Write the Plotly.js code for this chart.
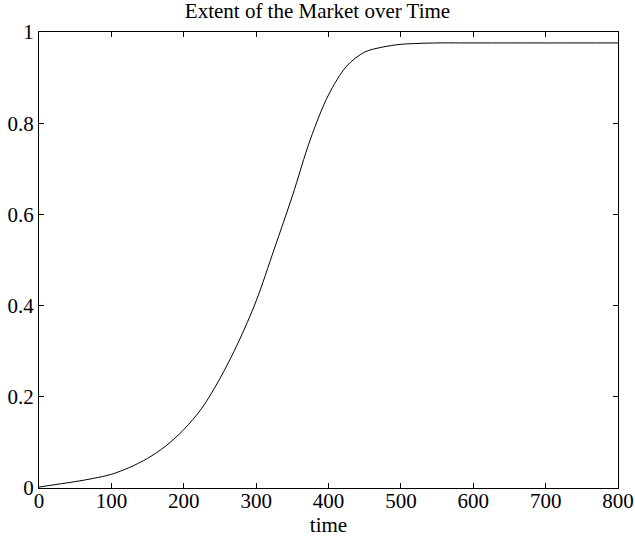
<!DOCTYPE html>
<html>
<head>
<meta charset="utf-8">
<script src="https://cdn.plot.ly/plotly-3.0.1.min.js"></script>
<style>html,body{margin:0;padding:0;background:#fff;}#chart{width:635px;height:543px;}</style>
</head>
<body>
<div id="chart"></div>
<script>
const timeValues = [0, 25, 50, 75, 100, 125, 150, 175, 200, 225, 250, 275, 300, 325, 350, 375, 400, 425, 450, 475, 500, 525, 550, 600, 650, 700, 750, 800];
const marketExtent = [0.002, 0.008, 0.014, 0.021, 0.030, 0.045, 0.065, 0.092, 0.128, 0.175, 0.240, 0.318, 0.410, 0.524, 0.640, 0.765, 0.862, 0.925, 0.956, 0.967, 0.973, 0.975, 0.976, 0.976, 0.976, 0.976, 0.976, 0.976];
const xTicks = [0, 100, 200, 300, 400, 500, 600, 700, 800];
const yTicks = [0, 0.2, 0.4, 0.6, 0.8, 1];

const trace = {
  x: timeValues, y: marketExtent, type: 'scatter', mode: 'lines',
  line: {color: '#000', width: 1, shape: 'spline', smoothing: 0.9},
  hoverinfo: 'none'
};
const fontFam = '"Liberation Serif", "Times New Roman", serif';
const fs = 21;
const layout = {
  width: 635, height: 543,
  margin: {l: 39, r: 17, t: 32, b: 55},
  paper_bgcolor: '#fff', plot_bgcolor: '#fff',
  showlegend: false,
  font: {family: fontFam, size: fs, color: '#000'},
  title: {text: 'Extent of the Market over Time', font: {family: fontFam, size: fs, color: '#000'}, x: 0.5, xanchor: 'center', y: 0.98, yanchor: 'middle'},
  xaxis: {
    range: [0, 800], tickvals: xTicks, ticktext: xTicks.map(String),
    ticks: 'inside', ticklen: 5, tickcolor: '#000', tickwidth: 1,
    showline: true, linecolor: '#000', linewidth: 1, mirror: 'allticks',
    showgrid: false, zeroline: false, ticklabelstandoff: -6,
    tickfont: {family: fontFam, size: fs, color: '#000'},
    title: {text: 'time', font: {family: fontFam, size: fs, color: '#000'}, standoff: 0}
  },
  yaxis: {
    range: [0, 1], tickvals: yTicks, ticktext: yTicks.map(String),
    ticks: 'inside', ticklen: 5, tickcolor: '#000', tickwidth: 1,
    showline: true, linecolor: '#000', linewidth: 1, mirror: 'allticks',
    showgrid: false, zeroline: false,
    tickfont: {family: fontFam, size: fs, color: '#000'}
  }
};
Plotly.newPlot('chart', [trace], layout, {displayModeBar: false, staticPlot: true});
</script>
</body>
</html>
